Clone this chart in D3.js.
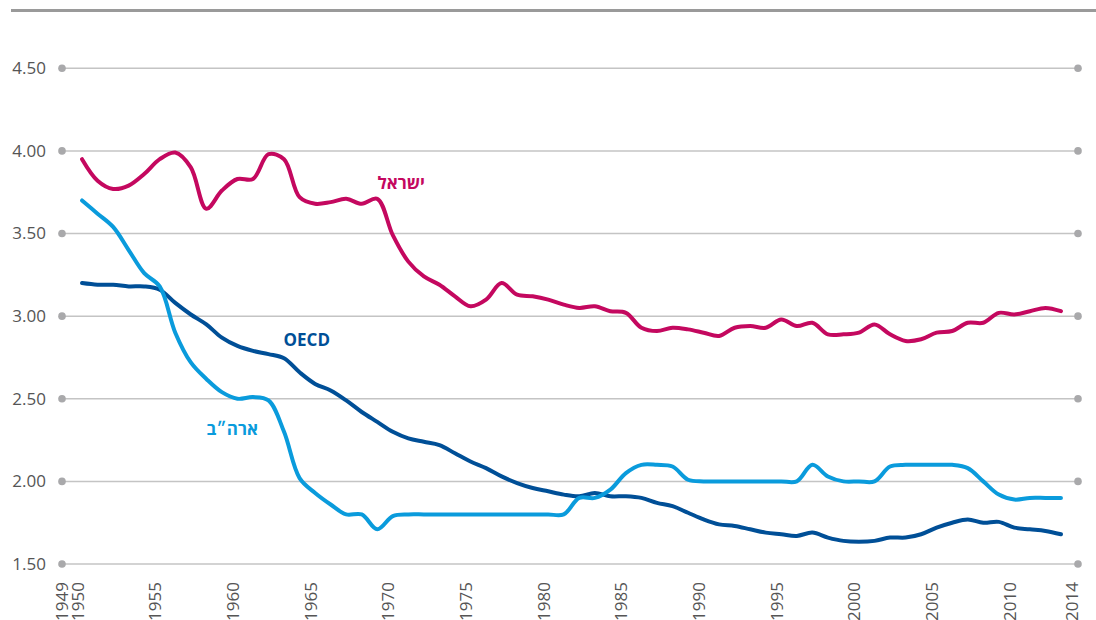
<!DOCTYPE html>
<html>
<head>
<meta charset="utf-8">
<script src="https://cdn.jsdelivr.net/npm/d3@7"></script>
<style>
  body { margin:0; background:#fff; }
  svg { display:block; font-family:"Open Sans", sans-serif; }
</style>
</head>
<body>
<svg id="chart" width="1096" height="620"></svg>
<script>
var years = d3.range(1950, 2014);
var israel = [3.95,3.82,3.77,3.79,3.86,3.95,3.99,3.90,3.65,3.76,
              3.83,3.83,3.98,3.95,3.72,3.68,3.69,3.71,3.68,3.71,
              3.49,3.33,3.24,3.19,3.12,3.06,3.10,3.20,3.13,3.12,
              3.10,3.07,3.05,3.06,3.03,3.02,2.93,2.91,2.93,2.92,
              2.90,2.88,2.93,2.94,2.93,2.98,2.94,2.96,2.89,2.89,
              2.90,2.95,2.89,2.85,2.86,2.90,2.91,2.96,2.96,3.02,
              3.01,3.03,3.05,3.03];
var usa = [3.70,3.62,3.54,3.40,3.26,3.18,2.90,2.72,2.62,2.54,
           2.50,2.51,2.49,2.30,2.02,1.93,1.86,1.80,1.80,1.71,
           1.79,1.80,1.80,1.80,1.80,1.80,1.80,1.80,1.80,1.80,
           1.80,1.80,1.90,1.90,1.95,2.05,2.10,2.10,2.09,2.01,
           2.00,2.00,2.00,2.00,2.00,2.00,2.00,2.10,2.03,2.00,
           2.00,2.00,2.09,2.10,2.10,2.10,2.10,2.08,2.00,1.92,
           1.89,1.90,1.90,1.90];
var oecd = [3.20,3.19,3.19,3.18,3.18,3.16,3.08,3.01,2.95,2.87,
            2.82,2.79,2.77,2.745,2.66,2.59,2.55,2.49,2.42,2.36,
            2.30,2.26,2.24,2.22,2.17,2.12,2.08,2.03,1.99,1.96,
            1.94,1.92,1.91,1.93,1.91,1.91,1.90,1.87,1.85,1.81,
            1.77,1.74,1.73,1.71,1.69,1.68,1.67,1.69,1.66,1.64,
            1.635,1.64,1.66,1.66,1.68,1.72,1.75,1.77,1.75,1.755,
            1.72,1.71,1.70,1.68];
var yTicks = [1.5,2.0,2.5,3.0,3.5,4.0,4.5];
var xTicks = [1949,1950,1955,1960,1965,1970,1975,1980,1985,1990,1995,2000,2005,2010,2014];

var series = [
  {name:"ישראל", values:israel, color:"#c4085f", lx:425, ly:189},
  {name:"OECD", values:oecd, color:"#004f97", lx:330, ly:346},
  {name:"ארה״ב", values:usa, color:"#0a9bdc", lx:258, ly:435}
];

(function(d3){
  var svg = d3.select("#chart");

  var x = d3.scaleLinear().domain([1949, 2014]).range([66.5, 1076.5]),
      y = d3.scaleLinear().domain([1.5, 4.5]).range([564, 68.3]);

  // top rule
  svg.append("line")
     .attr("x1",11).attr("x2",1096)
     .attr("y1",10.5).attr("y2",10.5)
     .attr("stroke","#9a9a9a")
     .attr("stroke-width",3);

  // horizontal grid with end dots
  var grid = svg.append("g").attr("class","grid")
     .selectAll("g").data(yTicks).enter().append("g")
     .attr("transform", function(d){ return "translate(0," + y(d) + ")" });
  grid.append("line")
     .attr("x1",62).attr("x2",1078)
     .attr("stroke","#c4c4c4")
     .attr("stroke-width",1.5);
  grid.append("circle").attr("cx",62).attr("r",3.8).attr("fill","#a9a9ab");
  grid.append("circle").attr("cx",1078).attr("r",3.8).attr("fill","#a9a9ab");
  grid.append("text")
     .attr("x",46).attr("dy","0.35em")
     .attr("text-anchor","end")
     .attr("fill","#555")
     .style("font-size","17px")
     .text(function(d){ return d3.format(".2f")(d) });

  // year labels, rotated
  svg.append("g").attr("class","xlabels")
     .selectAll("text").data(xTicks).enter().append("text")
     .attr("transform", function(d){ return "translate(" + (x(d)+1.5) + ",582) rotate(-90)" })
     .attr("text-anchor","end")
     .attr("fill","#555")
     .style("font-size","17px")
     .text(function(d){ return d });

  // smoothed like the original (slight overshoot at the flat parts)
  var line = d3.line()
     .x(function(d,i){ return x(years[i]) })
     .y(function(d){ return y(d) })
     .curve(d3.curveCatmullRom.alpha(0.5));

  svg.append("g").selectAll("path").data(series).enter().append("path")
     .attr("d", function(d){ return line(d.values) })
     .attr("fill","none")
     .attr("stroke", function(d){ return d.color })
     .attr("stroke-width",4)
     .attr("stroke-linecap","round")
     .attr("stroke-linejoin","round");

  svg.append("g").selectAll("text").data(series).enter().append("text")
     .attr("x", function(d){ return d.lx })
     .attr("y", function(d){ return d.ly })
     .attr("text-anchor","end")
     .attr("fill", function(d){ return d.color })
     .style("font-size","17px")
     .style("font-weight","bold")
     .text(function(d){ return d.name });
})(d3);
</script>
</body>
</html>
